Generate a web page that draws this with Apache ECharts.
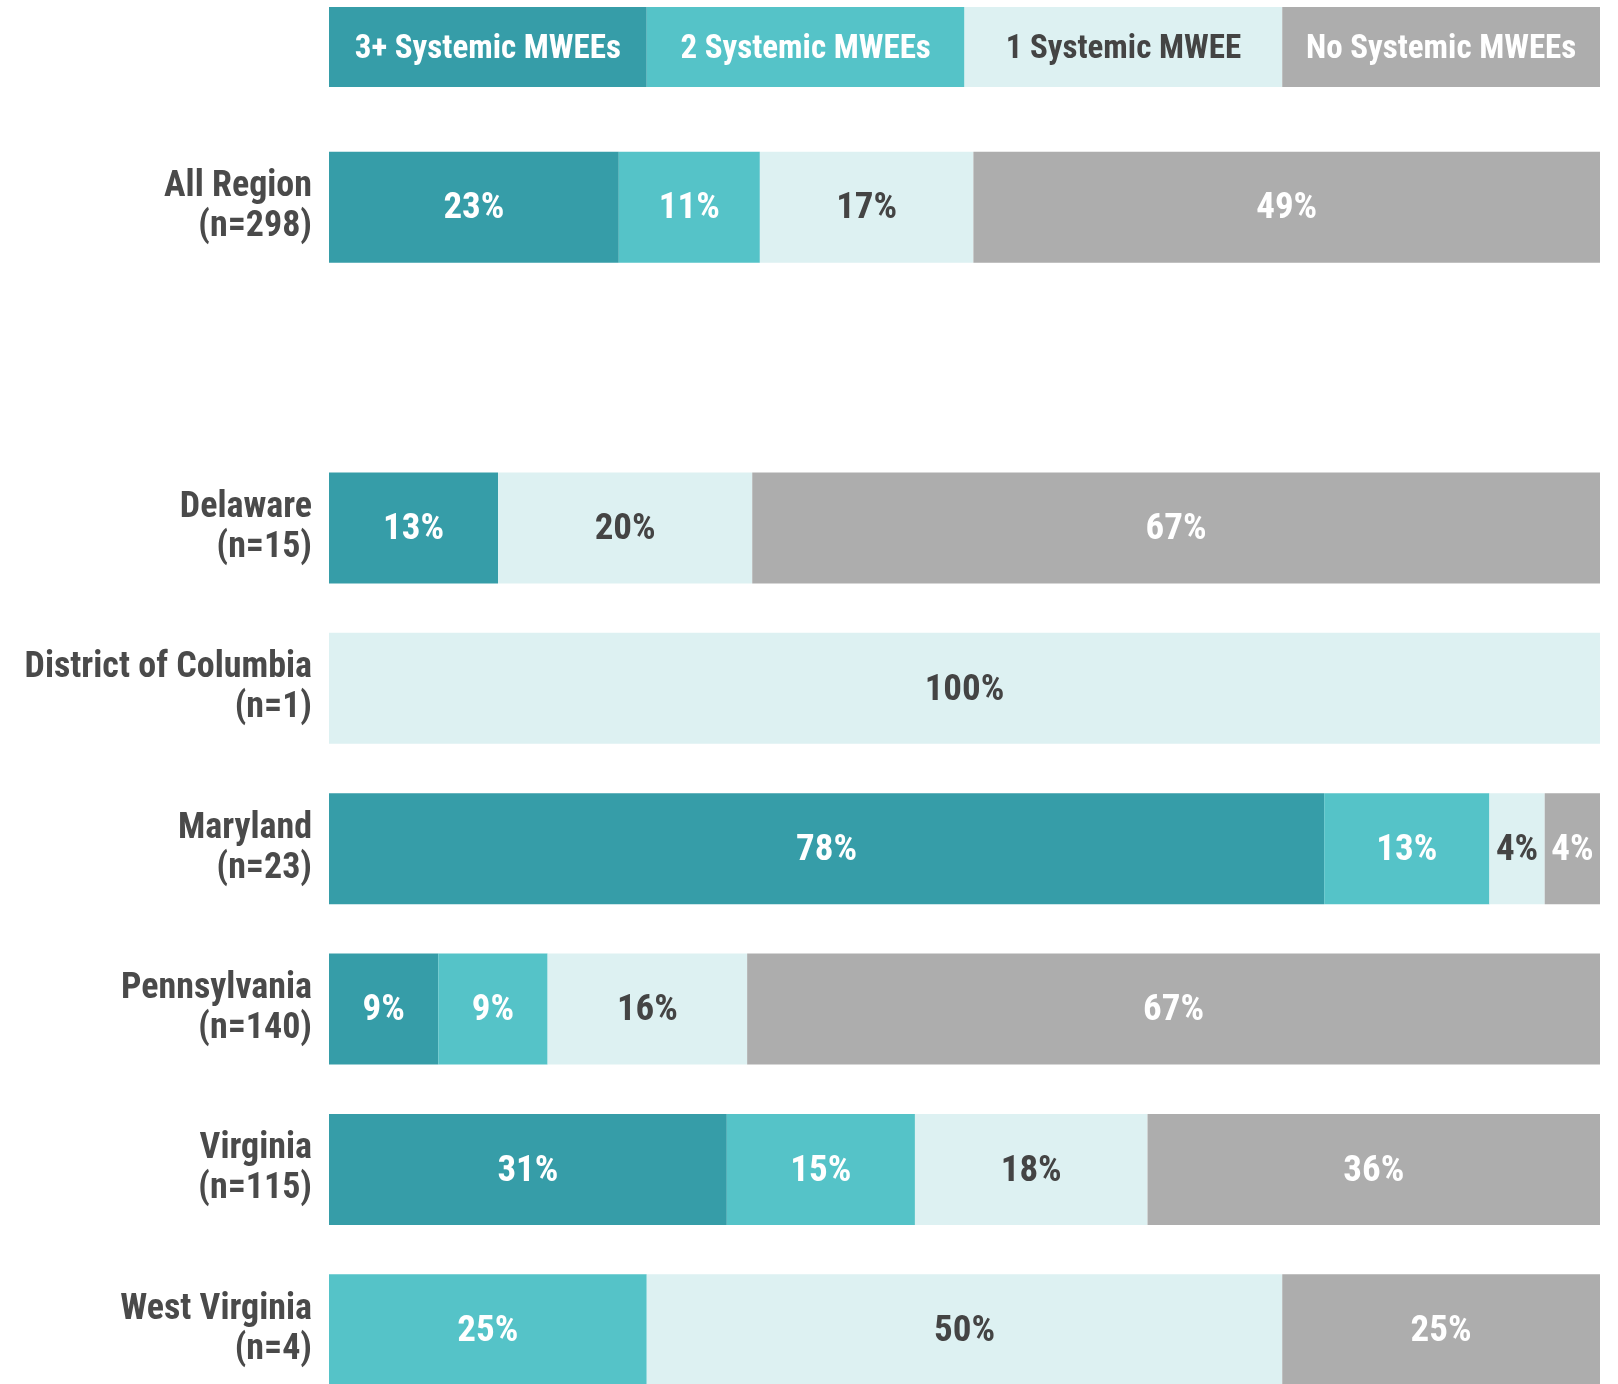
<!DOCTYPE html>
<html>
<head>
<meta charset="utf-8">
<script src="https://cdn.jsdelivr.net/npm/echarts@6/dist/echarts.min.js"></script>
<style>
  html, body { margin: 0; padding: 0; background: #fff; }
  #chart { width: 1618px; height: 1384px; }
</style>
</head>
<body>
<div id="chart"></div>
<script>
const categories = [
  'All Region\n(n=298)',
  '',
  'Delaware\n(n=15)',
  'District of Columbia\n(n=1)',
  'Maryland\n(n=23)',
  'Pennsylvania\n(n=140)',
  'Virginia\n(n=115)',
  'West Virginia\n(n=4)'
];
const seriesNames = ['3+ Systemic MWEEs', '2 Systemic MWEEs', '1 Systemic MWEE', 'No Systemic MWEEs'];
// percent of respondents
const threePlus = [22.8, null, 13.3, 0, 78.3, 8.6, 31.3, 0];
const two = [11.1, null, 0, 0, 13.0, 8.6, 14.8, 25];
const one = [16.8, null, 20.0, 100, 4.35, 15.7, 18.3, 50];
const none = [49.3, null, 66.7, 0, 4.35, 67.1, 35.7, 25];

const colors = ['#369da8', '#55c3c8', '#ddf1f2', '#adadad'];
const textColors = ['#fff', '#fff', '#444', '#fff'];
const font = "'Roboto Condensed', 'Open Sans', Roboto, 'Noto Sans', sans-serif";
const stretch = 'condensed';

const W = 1618;
const gridLeft = 329, gridRight = 18;
const plotW = W - gridLeft - gridRight;

const chart = echarts.init(document.getElementById('chart'));

const values = [threePlus, two, one, none];

// legend drawn as four equal boxes across the plot width
let legendItems = seriesNames.map((name, i) => ({
  type: 'rect',
  left: gridLeft + i * plotW / 4,
  top: 7,
  shape: { width: plotW / 4, height: 80 },
  style: { fill: colors[i] },
  textContent: {
    style: {
      text: name,
      fill: textColors[i],
      font: stretch + ' bold 33px ' + font
    }
  },
  textConfig: { position: 'inside', offset: [0, 3] }
}));

let option = {
  animation: false,
  textStyle: { fontFamily: font },
  graphic: legendItems,
  grid: {
    left: gridLeft,
    right: gridRight,
    top: 127,
    height: 1283,
    outerBoundsMode: 'none',
    containLabel: false
  },
  xAxis: {
    type: 'value',
    min: 0,
    max: 100,
    show: false
  },
  yAxis: {
    type: 'category',
    inverse: true,
    data: categories,
    axisLine: { show: false },
    axisTick: { show: false },
    axisLabel: {
      margin: 17,
      color: '#4a4a4a',
      fontSize: 36,
      fontStyle: stretch,
      fontWeight: 'bold',
      lineHeight: 40,
      padding: [12, 0, 0, 0],
      fontFamily: font
    }
  },
  series: values.map((vals, i) => ({
    name: seriesNames[i],
    type: 'bar',
    stack: 'total',
    barWidth: 111,
    itemStyle: { color: colors[i] },
    emphasis: { disabled: true },
    label: {
      show: true,
      position: 'inside',
      offset: [0, 2],
      color: textColors[i],
      fontSize: 37,
      fontStyle: stretch,
      fontWeight: 'bold',
      fontFamily: font,
      formatter: (p) => (p.value ? Math.round(p.value) + '%' : '')
    },
    data: vals
  }))
};

chart.setOption(option);
</script>
</body>
</html>
